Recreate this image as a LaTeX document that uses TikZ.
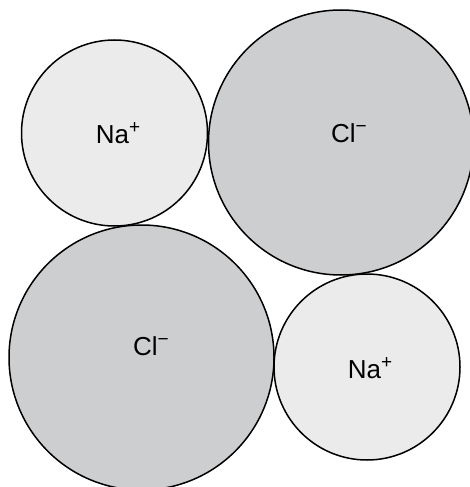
\documentclass[tikz,border=0pt]{standalone}
\usepackage{fontspec}
\setmainfont{Liberation Sans}
\definecolor{nafill}{HTML}{EAEBEA}
\definecolor{clfill}{HTML}{CDCED0}
\newcommand{\supsign}[1]{\raisebox{0.36em}{\fontsize{19}{19}\selectfont #1}}
\begin{document}
\begin{tikzpicture}[x=1pt,y=-1pt,
  ion/.style={circle,draw=black,line width=1.5pt,inner sep=0pt},
  na/.style={ion,fill=nafill,minimum size=186pt},
  cl/.style={ion,fill=clfill,minimum size=265pt},
  lbl/.style={font=\fontsize{26}{26}\selectfont,inner sep=0pt}]
\useasboundingbox (0,0) rectangle (469,487);
\node[na] (na1) at (114.5,133) {};
\node[cl] (cl1) at (341,142.5) {};
\node[cl] (cl2) at (141.5,357.5) {};
\node[na] (na2) at (367,367) {};
\node[lbl] (t1) at (118,133) {Na\supsign{+}};
\node[lbl] (t2) at (349,133) {Cl\supsign{−}};
\node[lbl] (t3) at (151,346) {Cl\supsign{−}};
\node[lbl] (t4) at (370,368) {Na\supsign{+}};
\end{tikzpicture}
\end{document}
